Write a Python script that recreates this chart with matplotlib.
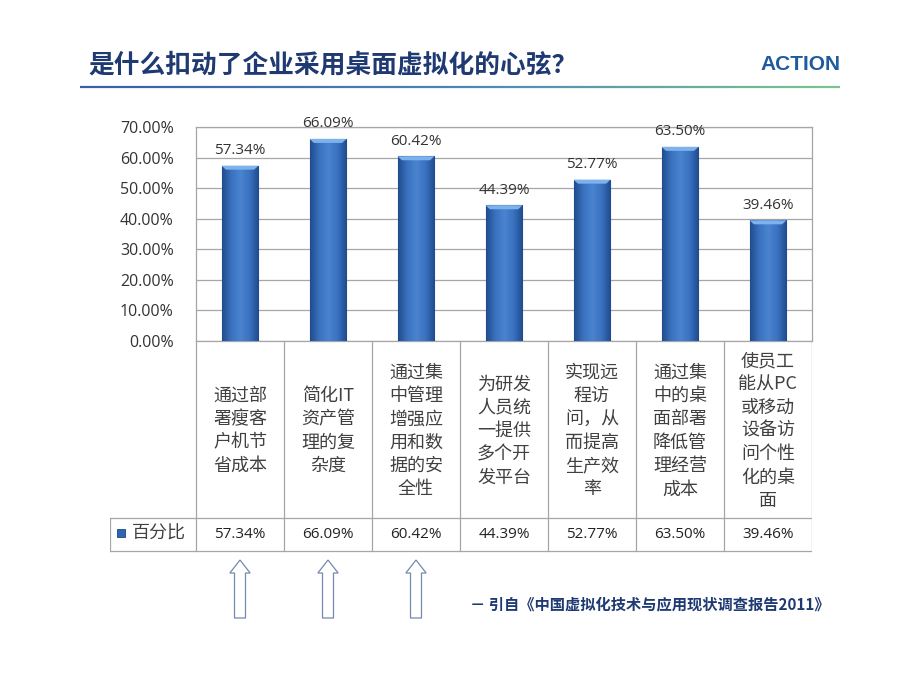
import numpy as np
import matplotlib
matplotlib.use("Agg")
import matplotlib.pyplot as plt
from matplotlib.colors import LinearSegmentedColormap
from matplotlib.collections import LineCollection
from matplotlib.patches import FancyArrow, Polygon

plt.rcParams['font.family'] = ['Noto Sans CJK SC', 'DejaVu Sans']

# --- data ---
title = "是什么扣动了企业采用桌面虚拟化的心弦？"
categories = ['通过部\n署瘦客\n户机节\n省成本',
              '简化IT\n资产管\n理的复\n杂度',
              '通过集\n中管理\n增强应\n用和数\n据的安\n全性',
              '为研发\n人员统\n一提供\n多个开\n发平台',
              '实现远\n程访\n问，从\n而提高\n生产效\n率',
              '通过集\n中的桌\n面部署\n降低管\n理经营\n成本',
              '使员工\n能从PC\n或移动\n设备访\n问个性\n化的桌\n面']
values = [0.5734, 0.6609, 0.6042, 0.4439, 0.5277, 0.6350, 0.3946]
series_name = "百分比"
yticks = [0.0, 0.1, 0.2, 0.3, 0.4, 0.5, 0.6, 0.7]
highlighted = [0, 1, 2]
source = "－ 引自《中国虚拟化技术与应用现状调查报告2011》"

W, H = 920, 690
fig = plt.figure(figsize=(W / 100, H / 100), dpi=100)


def px(x0, y0, x1, y1):
    return [x0 / W, 1 - y1 / H, (x1 - x0) / W, (y1 - y0) / H]


grid_c = '#A6A6A6'
text_c = '#333333'
navy = '#1F3A72'

# --- main bar chart ---
ax = fig.add_axes(px(196, 127, 812, 341))
x = np.arange(len(values))
bw = 0.42
bar_cmap = LinearSegmentedColormap.from_list(
    'cyl', ['#1F4C8E', '#3A72C0', '#4A83D0', '#3A72C0', '#1F4C8E'])
grad = np.linspace(0, 1, 64).reshape(1, -1)
bars = ax.bar(x, values, width=bw, color='#3B73C0', edgecolor='#1D4784',
              linewidth=0.8, zorder=3)
for b, v in zip(bars, values):
    x0 = b.get_x()
    im = ax.imshow(grad, cmap=bar_cmap, aspect='auto', zorder=3,
                   extent=(x0, x0 + bw, 0, v))
    im.set_clip_path(b)
    top = Polygon([(x0, v), (x0 + bw, v), (x0 + bw - 0.05, v - 0.013),
                   (x0 + 0.05, v - 0.013)], closed=True,
                  fc='#7DB2EC', ec='none', zorder=4)
    ax.add_patch(top)
    ax.text(b.get_x() + bw / 2, v + 0.05, f'{v:.2%}', ha='center', va='center',
            fontsize=11, color=text_c, family='Open Sans', clip_on=False)

ax.set_xlim(-0.5, len(values) - 0.5)
ax.set_ylim(0, 0.7)
ax.set_yticks(yticks)
ax.set_yticklabels([f'{t:.2%}' for t in yticks], fontsize=11.5, color=text_c,
                   family='Open Sans')
ax.set_xticks([])
ax.tick_params(axis='y', length=0, pad=16)
ax.yaxis.grid(True, color=grid_c, linewidth=0.9, zorder=0)
ax.set_axisbelow(True)
for s in ax.spines.values():
    s.set_color(grid_c)
    s.set_linewidth(0.9)

# --- data table below ---
leg_w = 86 / 88
tax = fig.add_axes(px(110, 341, 812, 690))
tax.set_xlim(-0.5 - leg_w, len(values) - 0.5)
tax.set_ylim(690, 341)
tax.axis('off')
for i in range(len(values) + 1):
    tax.plot([i - 0.5, i - 0.5], [341, 551], color=grid_c, lw=0.9)
tax.plot([-0.5 - leg_w, -0.5 - leg_w], [518, 551], color=grid_c, lw=0.9)
for yy in [518, 551]:
    tax.plot([-0.5 - leg_w, len(values) - 0.5], [yy, yy], color=grid_c, lw=0.9)

for i, (c, v) in enumerate(zip(categories, values)):
    tax.text(i, 431, c, ha='center', va='center', fontsize=13,
             color='#404040', linespacing=1.38)
    tax.text(i, 535, f'{v:.2%}', ha='center', va='center', fontsize=11,
             color='#222222', family='Open Sans')

# legend key in the table
tax.scatter([-0.5 - leg_w + 0.13], [533], marker='s', s=30,
            color='#2F64AE', edgecolor='#1D4784', linewidth=0.6)
tax.text(-0.5 - leg_w + 0.25, 534, series_name, ha='left', va='center',
         fontsize=13, color='#404040')

# arrows under the first categories
for i in highlighted:
    tax.add_patch(FancyArrow(i, 618, 0, -58, width=0.125, head_width=0.23,
                             head_length=13, length_includes_head=True,
                             fc='white', ec='#7689AE', lw=0.9, clip_on=False))

# --- header ---
fig.text(88 / W, 1 - 65 / H, title, fontsize=18.5, color=navy,
         va='center', ha='left', fontweight='bold')
fig.text(840 / W, 1 - 65 / H, 'ACTION', fontsize=15, color='#1F5C9E',
         va='center', ha='right', fontweight='bold',
         family=['Liberation Sans Narrow', 'Liberation Sans'])

oax = fig.add_axes([0, 0, 1, 1], zorder=-1)
oax.set_xlim(0, W)
oax.set_ylim(H, 0)
oax.axis('off')
lx = np.linspace(80, 840, 200)
segs = [[(lx[k], 87), (lx[k + 1], 87)] for k in range(len(lx) - 1)]
line_cmap = LinearSegmentedColormap.from_list('hdr', ['#3A5DA8', '#4A86B8', '#7CC58C'])
lc = LineCollection(segs, cmap=line_cmap, linewidths=1.6)
lc.set_array(np.linspace(0, 1, len(segs)))
oax.add_collection(lc)

fig.text(470 / W, 1 - 604 / H, source, fontsize=11, color=navy,
         va='center', ha='left', fontweight='bold')

fig.savefig('out.png', dpi=100)
